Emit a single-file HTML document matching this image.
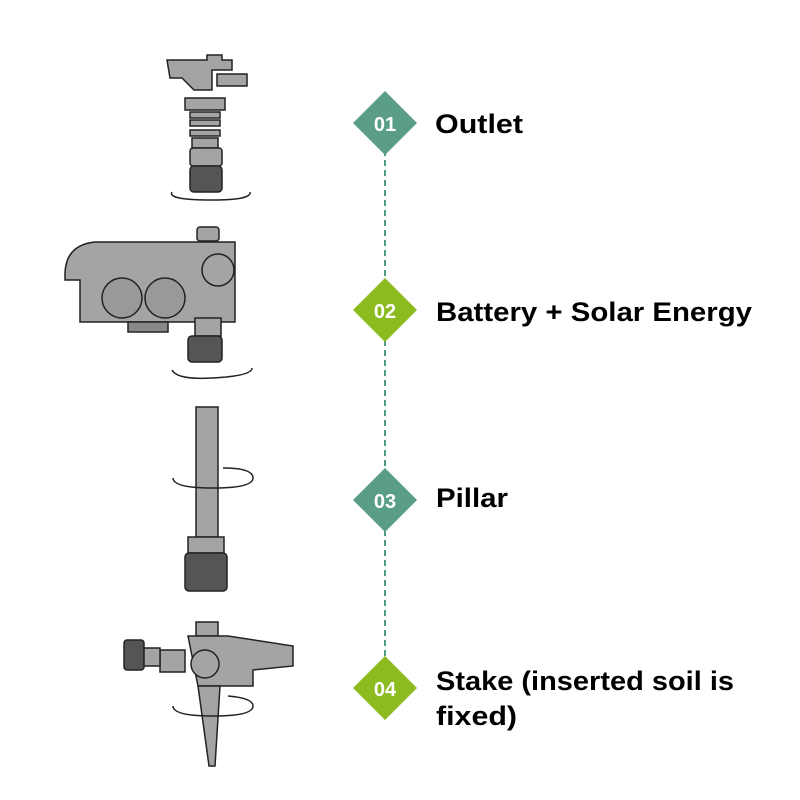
<!DOCTYPE html>
<html><head><style>
html,body{margin:0;padding:0;background:#fff;width:800px;height:800px;overflow:hidden}
svg{display:block}
text.l{font-family:"Liberation Sans",Arial,sans-serif;font-weight:bold;font-size:27px;fill:#000}
text.n{font-family:"Liberation Sans",Arial,sans-serif;font-weight:bold;font-size:20px;fill:#fff}
</style></head><body>
<svg width="800" height="800" viewBox="0 0 800 800" xmlns="http://www.w3.org/2000/svg">
<g stroke="#222" stroke-width="1.5" fill="#a4a4a4">
<path d="M167 60h40v-5h15v5h10v10h-20v20h-18l-12-12h-12z"/>
<rect x="217" y="74" width="30" height="12"/>
<rect x="185" y="98" width="40" height="12"/>
<rect x="190" y="112" width="30" height="6"/>
<rect x="190" y="120" width="30" height="6"/>
<rect x="190" y="130" width="30" height="6"/>
<rect x="192" y="138" width="26" height="10"/>
<rect x="190" y="148" width="32" height="18" rx="3"/>
<rect x="190" y="166" width="32" height="26" rx="4" fill="#555"/>
<rect x="197" y="227" width="22" height="14" rx="3"/>
<path d="M65 275q0-30 30-33h140v80h-155v-42h-15z"/>
<circle cx="218" cy="270" r="16"/>
<circle cx="122" cy="298" r="20" fill="#999"/>
<circle cx="165" cy="298" r="20" fill="#999"/>
<rect x="195" y="318" width="26" height="18"/>
<rect x="188" y="336" width="34" height="26" rx="4" fill="#555"/>
<rect x="128" y="322" width="40" height="10" fill="#888"/>
<rect x="196" y="407" width="22" height="130"/>
<rect x="188" y="537" width="36" height="16"/>
<rect x="185" y="553" width="42" height="38" rx="4" fill="#555"/>
<rect x="196" y="622" width="22" height="14"/>
<path d="M188 636h40l65 10v20l-40 4v16h-55z"/>
<circle cx="205" cy="664" r="14"/>
<rect x="160" y="650" width="25" height="22"/>
<rect x="124" y="640" width="20" height="30" rx="3" fill="#555"/>
<rect x="144" y="648" width="16" height="18"/>
<path d="M198 686h22l-5 80h-6z"/>
</g>
<g fill="none" stroke="#222" stroke-width="1.5">
<path d="M172 192q-5 8 40 8q40 0 38-8"/>
<path d="M172 370q5 10 40 8q40-2 40-10"/>
<path d="M173 478q0 10 40 10q40 0 40-10q0-10-30-10"/>
<path d="M173 706q0 10 40 10q40 0 40-10q0-8-25-10"/>
</g>
<line x1="385" y1="150" x2="385" y2="670" stroke="#4f9a86" stroke-width="2" stroke-dasharray="6,4"/>
<polygon points="385,91 417,123 385,155 353,123" fill="#5a9e88"/>
<polygon points="385,278 417,310 385,342 353,310" fill="#8cbb1f"/>
<polygon points="385,468 417,500 385,532 353,500" fill="#5a9e88"/>
<polygon points="385,656 417,688 385,720 353,688" fill="#8cbb1f"/>
<text class="n" x="385" y="131" text-anchor="middle">01</text>
<text class="n" x="385" y="318" text-anchor="middle">02</text>
<text class="n" x="385" y="508" text-anchor="middle">03</text>
<text class="n" x="385" y="696" text-anchor="middle">04</text>
<text class="l" x="435" y="133" textLength="88" lengthAdjust="spacingAndGlyphs">Outlet</text>
<text class="l" x="436" y="321" textLength="316" lengthAdjust="spacingAndGlyphs">Battery + Solar Energy</text>
<text class="l" x="436" y="507" textLength="72" lengthAdjust="spacingAndGlyphs">Pillar</text>
<text class="l" x="436" y="690" textLength="298" lengthAdjust="spacingAndGlyphs">Stake (inserted soil is</text>
<text class="l" x="436" y="725" textLength="81" lengthAdjust="spacingAndGlyphs">fixed)</text>
</svg>
</body></html>
